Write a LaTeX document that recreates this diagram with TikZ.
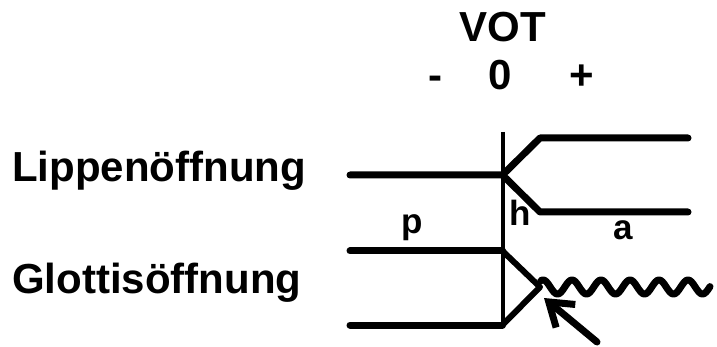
\documentclass[tikz,border=0pt]{standalone}
\usepackage{fontspec}
\setmainfont{Liberation Sans}
\usetikzlibrary{arrows.meta}
\begin{document}
\begin{tikzpicture}[x=1pt,y=-1pt,
  big/.style={inner sep=0pt,font=\fontsize{42}{46}\selectfont\bfseries},
  small/.style={inner sep=0pt,font=\fontsize{35}{38}\selectfont\bfseries},
  thickline/.style={line width=7pt,line cap=round,line join=round},
  midline/.style={line width=6pt,line cap=round,line join=round},
  waveline/.style={line width=7pt,line cap=round,line join=round},
  arrowline/.style={line width=7pt,line cap=round,line join=round},
  thinline/.style={line width=4pt}]
\useasboundingbox (0,0) rectangle (717,347);
% labels
\node[big,anchor=base west] (lip) at (12,182) {Lippenöffnung};
\node[big,anchor=base west] (glo) at (12,294) {Glottisöffnung};
\node[big,anchor=base] (vot) at (503,42) {VOT};
\node[big,anchor=base] (minus) at (435,90) {-};
\node[big,anchor=base] (zero) at (500,90) {0};
\node[big,anchor=base] (plus) at (582,90) {+};
\node[small,anchor=base] (p) at (412,234) {p};
\node[small,anchor=base] (h) at (520,226) {h};
\node[small,anchor=base] (a) at (623,240) {a};
% coordinates
\coordinate (v0) at (502.5,132);
\coordinate (v1) at (502.5,328);
\coordinate (l0) at (350,175);
\coordinate (j) at (502.5,175);
\coordinate (u1) at (540,138);
\coordinate (u2) at (688,138);
\coordinate (d1) at (540,212);
\coordinate (d2) at (688,212);
\coordinate (g0) at (350,251);
\coordinate (g1) at (502.5,251);
\coordinate (t) at (540,287);
\coordinate (g2) at (350,325);
\coordinate (g3) at (502.5,325);
\coordinate (a0) at (597,342);
\coordinate (a1) at (544,298);
% vertical line
\draw[thinline] (v0) -- (v1);
% lips
\draw[thickline] (l0) -- (j) -- (u1) -- (u2);
\draw[thickline] (j) -- (d1) -- (d2);
% glottis
\draw[thickline] (g0) -- (g1);
\draw[thickline] (g2) -- (g3);
\draw[midline] (g1) -- (t) -- (g3);
% voicing wave
\draw[waveline] plot[domain=-2:167,samples=200] ({543+\x},{287-7*cos(12.4138*\x)});
% arrow
\draw[arrowline,-{Straight Barb[length=22pt,width=30pt]}] (a0) -- (a1);
\end{tikzpicture}
\end{document}
